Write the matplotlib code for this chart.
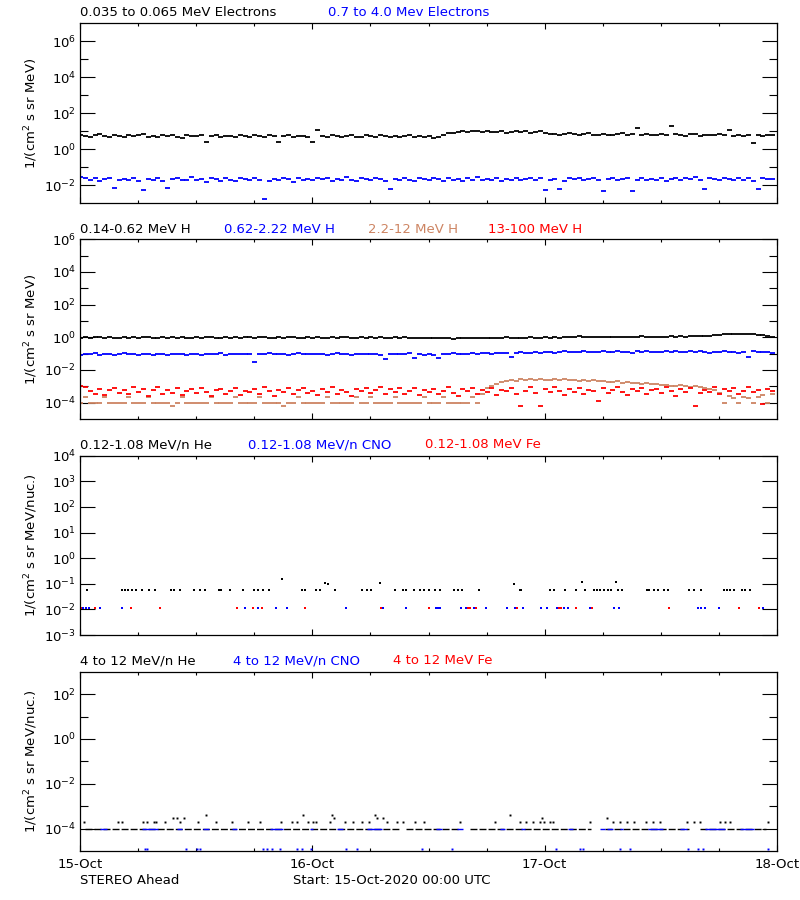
import matplotlib
matplotlib.use('Agg')
import matplotlib.pyplot as plt
import numpy as np
from matplotlib.ticker import FixedLocator, LogFormatterMathtext, NullFormatter

# time axis: 15-Oct-2020 00:00 UTC .. 18-Oct-2020 00:00, in hours
day_ticks = [0, 24, 48, 72]
day_labels = ['15-Oct', '16-Oct', '17-Oct', '18-Oct']
cadence_h = 0.5   # 30 min averages

# panel 1: electrons, log10 flux
e_low_log = [0.80, 0.74, 0.70, 0.78, 0.83, 0.72, 0.66, 0.79, 0.75, 0.69, 0.81, 0.73,
             0.77, 0.85, 0.71, 0.76, 0.68, 0.80, 0.74, 0.82, 0.70, 0.63, 0.78, 0.75,
             0.72, 0.79, 0.42, 0.74, 0.81, 0.69, 0.76, 0.73, 0.66, 0.80, 0.75, 0.71,
             0.78, 0.74, 0.70, 0.77, 0.72, 0.40, 0.75, 0.79, 0.68, 0.73, 0.76, 0.71,
             0.41, 1.10, 0.74, 0.70, 0.78, 0.72, 0.67, 0.75, 0.80, 0.71, 0.69, 0.77,
             0.73, 0.68, 0.79, 0.74, 0.70, 0.76, 0.66, 0.72, 0.78, 0.69, 0.75, 0.71,
             0.74, 0.65, 0.70, 0.78, 0.88, 0.93, 0.97, 1.02, 0.95, 0.99, 1.04, 0.96,
             1.00, 0.94, 0.98, 1.03, 0.92, 0.97, 1.01, 0.95, 0.99, 0.93, 0.96, 1.00,
             0.91, 0.87, 0.84, 0.80, 0.86, 0.90, 0.83, 0.78, 0.85, 0.88, 0.82, 0.79,
             0.86, 0.81, 0.77, 0.84, 0.89, 0.80, 0.83, 1.18, 0.79, 0.85, 0.82, 0.78,
             0.87, 0.81, 1.28, 0.84, 0.79, 0.76, 0.83, 0.86, 0.74, 0.80, 0.77, 0.82,
             0.85, 0.79, 1.10, 0.76, 0.81, 0.74, 0.78, 0.36, 0.80, 0.73, 0.77, 0.81]
e_high_log = [-1.55, -1.62, -1.70, -1.58, -1.75, -1.66, -1.60, -2.15, -1.72, -1.64, -1.69, -1.57,
              -1.74, -2.28, -1.63, -1.70, -1.59, -1.78, -2.15, -1.66, -1.61, -1.73, -1.68, -1.55,
              -1.71, -1.64, -1.80, -1.59, -1.67, -1.74, -1.62, -1.69, -1.76, -1.58, -1.65, -1.72,
              -1.60, -1.68, -2.74, -1.75, -1.63, -1.70, -1.57, -1.66, -1.79, -1.61, -1.69, -1.64,
              -1.73, -1.58, -1.67, -1.62, -1.76, -1.65, -1.70, -1.56, -1.68, -1.74, -1.61, -1.67,
              -1.72, -1.59, -1.66, -1.78, -2.20, -1.63, -1.70, -1.57, -1.68, -1.75, -1.62, -1.66,
              -1.71, -1.60, -1.67, -1.74, -1.58, -1.69, -1.63, -1.77, -1.61, -1.68, -1.56, -1.72,
              -1.65, -1.70, -1.59, -1.76, -1.64, -1.68, -1.60, -1.73, -1.66, -1.57, -1.71, -1.62,
              -2.28, -1.69, -1.63, -2.20, -1.74, -1.60, -1.67, -1.58, -1.72, -1.65, -1.61, -1.70,
              -2.30, -1.64, -1.59, -1.73, -1.66, -1.62, -2.32, -1.68, -1.57, -1.71, -1.63, -1.69,
              -1.60, -1.74, -1.65, -1.58, -1.70, -1.62, -1.67, -1.55, -1.73, -2.20, -1.61, -1.66,
              -1.70, -1.59, -1.64, -1.72, -1.57, -1.68, -1.62, -1.75, -2.18, -1.60, -1.66, -1.63]

# panel 2: protons, log10 flux
h1_log = [-0.02, 0.01, -0.04, -0.01, 0.02, -0.03, 0.00, -0.05, -0.02, 0.01, -0.03, 0.00,
          -0.04, -0.01, 0.02, -0.03, -0.02, 0.01, -0.05, -0.01, -0.03, 0.02, -0.02, -0.04,
          0.00, -0.03, -0.01, 0.02, -0.04, -0.02, 0.01, -0.03, 0.00, -0.05, -0.01, 0.02,
          -0.03, -0.01, 0.01, -0.04, -0.02, 0.00, -0.03, 0.03, -0.01, -0.04, -0.02, 0.01,
          -0.03, 0.00, -0.05, -0.02, 0.01, -0.03, -0.01, 0.02, -0.04, -0.02, 0.00, -0.03,
          -0.01, -0.04, 0.01, -0.02, -0.05, 0.00, -0.03, -0.01, -0.06, -0.03, -0.05, -0.02,
          -0.07, -0.04, -0.06, -0.03, -0.05, -0.08, -0.04, -0.06, -0.02, -0.05, -0.03, -0.06,
          -0.04, -0.02, -0.05, -0.03, -0.01, -0.04, -0.02, -0.05, -0.03, 0.00, -0.02, -0.04,
          -0.01, -0.03, 0.00, -0.02, 0.01, -0.01, 0.02, 0.08, 0.00, 0.03, -0.01, 0.02,
          0.01, 0.03, 0.00, 0.04, 0.02, 0.05, 0.01, 0.03, 0.06, 0.02, 0.04, 0.03,
          0.05, 0.02, 0.06, 0.04, 0.07, 0.05, 0.08, 0.06, 0.09, 0.11, 0.08, 0.12,
          0.17, 0.20, 0.18, 0.22, 0.19, 0.21, 0.18, 0.20, 0.16, 0.12, 0.07, 0.04]
h2_log = [-1.08, -1.02, -1.05, -0.99, -1.06, -1.03, -1.01, -1.07, -1.04, -0.98, -1.05, -1.02,
          -1.06, -1.03, -1.00, -1.07, -1.04, -1.01, -1.08, -1.03, -1.05, -1.00, -1.06, -1.02,
          -1.04, -1.07, -1.01, -1.05, -1.03, -0.99, -1.06, -1.02, -1.04, -1.00, -1.05, -1.03,
          -1.49, -1.01, -1.04, -0.98, -1.05, -1.02, -1.00, -1.06, -1.03, -0.99, -1.04, -1.01,
          -1.05, -1.02, -1.00, -1.06, -1.03, -0.98, -1.04, -1.01, -1.07, -1.02, -1.00, -1.05,
          -1.03, -1.00, -1.06, -1.33, -1.02, -1.05, -1.01, -1.04, -0.99, -1.25, -1.03, -1.06,
          -1.02, -1.07, -1.25, -1.01, -1.04, -0.98, -1.03, -1.00, -1.05, -0.97, -1.02, -0.99,
          -0.96, -1.01, -0.98, -0.94, -0.99, -1.20, -0.95, -0.92, -0.97, -0.93, -0.90, -0.95,
          -0.91, -0.88, -0.93, -0.89, -0.86, -0.92, -0.88, -0.90, -0.85, -0.91, -0.87, -0.89,
          -0.86, -0.92, -0.88, -0.85, -0.90, -0.87, -0.93, -0.86, -0.89, -0.84, -0.90, -0.87,
          -0.91, -0.86, -0.88, -0.83, -0.89, -0.92, -0.86, -0.90, -0.85, -0.88, -0.93, -0.87,
          -0.89, -0.85, -0.91, -0.87, -0.93, -0.88, -1.20, -0.86, -0.90, -0.92, -0.87, -0.94]
h3_log = [-4.00, -3.66, -4.00, -4.00, -4.00, -3.66, -4.00, -4.00, -4.00, -4.00, -3.66, -4.00,
          -4.00, -4.00, -3.66, -4.00, -4.00, -4.00, -4.00, -4.20, -4.00, -3.66, -4.00, -4.00,
          -4.00, -4.00, -4.00, -3.66, -4.00, -4.00, -4.00, -4.00, -3.66, -4.00, -4.00, -4.00,
          -4.00, -3.66, -4.00, -4.00, -4.00, -4.00, -4.20, -4.00, -4.00, -3.66, -4.00, -4.00,
          -4.00, -4.00, -4.00, -3.66, -4.00, -4.00, -4.00, -4.00, -4.00, -3.66, -4.00, -4.00,
          -3.66, -4.00, -4.00, -4.00, -4.00, -3.66, -4.00, -4.00, -4.00, -4.00, -4.00, -3.66,
          -4.00, -4.00, -4.00, -3.66, -4.00, -4.00, -4.00, -4.00, -4.00, -3.66, -4.00, -3.45,
          -3.10, -3.00, -2.85, -2.75, -2.70, -2.62, -2.66, -2.58, -2.63, -2.56, -2.60, -2.55,
          -2.59, -2.62, -2.56, -2.61, -2.58, -2.64, -2.60, -2.66, -2.62, -2.68, -2.63, -2.70,
          -2.67, -2.72, -2.75, -2.70, -2.78, -2.74, -2.80, -2.77, -2.84, -2.80, -2.86, -2.88,
          -2.92, -2.89, -2.95, -2.98, -2.94, -3.00, -3.03, -2.99, -3.06, -3.10, -3.14, -3.20,
          -3.40, -4.00, -3.60, -3.70, -4.00, -3.66, -3.72, -4.00, -3.66, -3.55, -4.00, -3.50]
h4_log = [-2.95, -3.05, -3.30, -3.45, -3.15, -3.55, -3.25, -3.10, -3.40, -3.20, -3.50, -3.05,
          -3.35, -3.15, -3.60, -3.25, -3.05, -3.45, -3.20, -3.38, -3.12, -3.55, -3.28, -3.18,
          -3.42, -3.08, -3.33, -3.58, -3.22, -3.14, -3.47, -3.30, -3.10, -3.52, -3.26, -3.37,
          -3.16, -3.44, -3.06, -3.31, -3.62, -3.20, -3.35, -3.12, -3.48, -3.24, -3.09, -3.40,
          -3.28, -3.54, -3.15, -3.36, -3.07, -3.45, -3.22, -3.33, -3.60, -3.18, -3.29, -3.11,
          -3.43, -3.25, -3.05, -3.50, -3.19, -3.34, -3.13, -3.46, -3.27, -3.08, -3.56, -3.21,
          -3.32, -3.14, -3.48, -3.26, -3.04, -3.39, -3.58, -3.17, -3.30, -3.11, -3.44, -3.23,
          -3.35, -3.09, -3.52, -3.20, -3.31, -3.13, -3.47, -4.23, -3.26, -3.06, -3.40, -4.20,
          -3.18, -3.37, -3.02, -3.28, -3.55, -3.15, -3.33, -3.10, -3.45, -3.21, -3.29, -3.88,
          -3.12, -3.41, -3.24, -3.06, -3.36, -3.53, -3.19, -3.30, -3.08, -3.46, -3.25, -3.14,
          -3.38, -3.04, -3.29, -3.57, -3.16, -3.32, -3.10, -4.20, -3.43, -3.22, -3.35, -3.07,
          -3.49, -3.18, -3.31, -3.12, -3.44, -3.26, -3.05, -3.37, -3.20, -4.10, -3.15, -3.28]

# panel 3: 0.12-1.08 MeV/n heavy ions (hours of non-zero samples)
he_lo_t = [0.7, 4.3, 4.6, 5.0, 5.4, 5.8, 6.4, 7.1, 7.7, 9.4, 9.7, 10.3, 11.8, 12.4, 12.9,
           14.4, 14.6, 15.5, 16.8, 18.0, 18.4, 18.9, 19.5, 22.9, 23.2, 24.4, 24.8, 26.3,
           29.1, 29.6, 30.1, 32.5, 33.4, 33.7, 34.5, 35.1, 35.5, 36.0, 36.7, 37.2, 38.6,
           39.0, 39.5, 41.2, 45.5, 45.6, 48.5, 49.0, 50.1, 51.2, 52.2, 53.1, 53.4, 53.7,
           54.1, 54.5, 54.9, 55.6, 56.0, 58.6, 58.8, 59.3, 59.7, 60.3, 60.7, 62.9, 63.4,
           64.2, 66.5, 66.8, 67.1, 67.6, 68.4, 68.7, 69.2]
he_lo_level = 0.055
he_lo_hi_t = [20.9, 25.3, 25.6, 31.0, 44.8, 51.9, 55.4]
he_lo_hi_v = [0.16, 0.11, 0.10, 0.11, 0.10, 0.12, 0.12]
cno_lo_t = [0.3, 0.6, 0.9, 2.1, 4.3, 17.0, 18.4, 20.2, 21.4, 27.5, 31.3, 33.7, 36.8, 37.0,
            37.2, 39.4, 39.9, 40.7, 41.9, 44.1, 44.9, 45.8, 47.6, 48.2, 49.3, 50.0, 50.4,
            51.2, 52.7, 55.2, 55.7, 63.8, 64.2, 64.6, 66.0, 70.6]
fe_lo_t = [0.1, 1.5, 5.3, 8.3, 16.2, 17.9, 18.8, 23.2, 31.1, 36.0, 40.1, 40.3, 40.9, 45.1,
           49.5, 49.7, 51.2, 52.9, 60.8, 68.1, 70.1]
lo_floor = 0.011

# panel 4: 4-12 MeV/n heavy ions
he_hi_t = [0.4, 3.95, 4.3, 6.5, 6.9, 7.6, 7.9, 8.8, 9.6, 10.0, 10.3, 10.7, 12.2, 13.0, 14.1,
           15.7, 17.4, 18.6, 20.8, 21.9, 22.4, 23.0, 23.6, 24.1, 24.4, 25.8, 26.0, 26.2,
           27.4, 28.2, 29.1, 29.9, 30.5, 30.7, 31.3, 31.7, 32.7, 33.4, 34.6, 35.5, 39.3,
           42.9, 44.4, 45.5, 46.1, 46.8, 47.5, 47.7, 47.9, 48.6, 48.9, 52.7, 54.4, 55.1,
           55.8, 56.5, 57.2, 58.5, 59.2, 59.9, 62.7, 63.4, 64.0, 66.1, 66.6, 67.1, 71.1]
he_hi_v = [1.9, 1.9, 1.9, 1.9, 1.9, 1.9, 1.9, 1.9, 3.0, 3.0, 1.9, 3.0, 1.9, 4.0, 1.9,
           1.9, 1.9, 1.9, 1.9, 1.9, 1.9, 4.0, 1.9, 1.9, 1.9, 1.9, 4.0, 3.0,
           1.9, 1.9, 1.9, 1.9, 4.0, 3.0, 3.0, 1.9, 1.9, 1.9, 1.9, 1.9, 1.9,
           1.9, 4.0, 1.9, 1.9, 1.9, 1.9, 3.0, 1.9, 1.9, 1.9, 1.9, 3.0, 1.9,
           1.9, 1.9, 1.9, 1.9, 1.9, 1.9, 1.9, 1.9, 1.9, 1.9, 1.9, 1.9, 1.9]   # x 1e-4
he_hi_floor_spans = [(0.5, 33.0), (33.7, 39.2), (40.3, 52.8), (54.2, 62.9), (64.0, 70.9)]
cno_hi_floor_spans = [(2.1, 2.8), (6.4, 8.1), (10.0, 10.5), (12.7, 13.3), (15.7, 16.2),
                      (19.6, 21.0), (23.8, 24.1), (26.5, 27.2), (29.6, 31.2), (36.8, 37.4),
                      (38.9, 39.6), (43.4, 43.9), (45.6, 46.0), (50.4, 50.9), (53.7, 54.2),
                      (54.4, 55.1), (55.8, 56.1), (58.7, 60.2), (62.0, 62.7), (64.6, 66.6),
                      (68.2, 69.6)]
cno_hi_low_t = [6.7, 6.9, 11.0, 12.1, 12.4, 18.9, 19.3, 19.8, 20.7, 22.4, 22.9, 23.9, 27.5,
                28.6, 35.3, 38.4, 49.2, 51.7, 52.0, 55.8, 56.8, 62.8, 63.8, 64.4, 71.1]
hi_floor = 1e-4
cno_hi_low_level = 1.2e-5

BLUE = '#0000ff'
RED = '#ff0000'
BROWN = '#cd8462'

plt.rcParams['font.family'] = 'DejaVu Sans'
plt.rcParams['font.size'] = 9.5

fig = plt.figure(figsize=(8, 9), dpi=100)

def px(x, y):
    return x / 800, 1 - y / 900

def make_axes(top, bottom, ylim, majors, minors, ylabel):
    ax = fig.add_axes([80 / 800, 1 - bottom / 900, 697 / 800, (bottom - top) / 900])
    ax.set_xlim(0, 72)
    ax.set_yscale('log')
    ax.set_ylim(*ylim)
    ax.yaxis.set_major_locator(FixedLocator(majors))
    ax.yaxis.set_minor_locator(FixedLocator(minors))
    ax.yaxis.set_major_formatter(LogFormatterMathtext())
    ax.yaxis.set_minor_formatter(NullFormatter())
    ax.xaxis.set_major_locator(FixedLocator(day_ticks))
    ax.xaxis.set_minor_locator(FixedLocator(np.arange(6, 72, 6)))
    ax.tick_params(axis='y', which='both', direction='in', left=True, right=True, width=0.8, pad=3)
    ax.tick_params(axis='y', which='major', length=11)
    ax.tick_params(axis='y', which='minor', length=5.5)
    ax.tick_params(axis='x', which='both', direction='in', top=True, bottom=True, width=0.8)
    ax.tick_params(axis='x', which='major', length=4, pad=5)
    ax.tick_params(axis='x', which='minor', length=2.5)
    ax.set_xticklabels([])
    for s in ax.spines.values():
        s.set_linewidth(0.9)
    ax.set_ylabel(ylabel)
    ax.yaxis.set_label_coords(-0.058, 0.5)
    return ax

t = np.arange(len(e_low_log)) * cadence_h
# short horizontal dashes, so the 30 min samples read as a dense band
mk = dict(marker='_', ms=3.6, mew=1.3, ls='none')

# panel 1
ax1 = make_axes(23.3, 203.3, (1e-3, 1e7), [1e-2, 1, 1e2, 1e4, 1e6], [1e-1, 1e1, 1e3, 1e5],
                '1/(cm$^2$ s sr MeV)')
ax1.plot(t, 10 ** np.array(e_low_log), color='black', **mk)
ax1.plot(t, 10 ** np.array(e_high_log), color=BLUE, **mk)
fig.text(*px(80, 13), '0.035 to 0.065 MeV Electrons', color='black', va='center')
fig.text(*px(328, 13), '0.7 to 4.0 Mev Electrons', color=BLUE, va='center')

# panel 2
ax2 = make_axes(239.3, 419.0, (1e-5, 1e6), [1e-4, 1e-2, 1, 1e2, 1e4, 1e6],
                [1e-3, 1e-1, 1e1, 1e3, 1e5], '1/(cm$^2$ s sr MeV)')
ax2.plot(t, 10 ** np.array(h3_log), color=BROWN, **mk)
ax2.plot(t, 10 ** np.array(h4_log), color=RED, **mk)
ax2.plot(t, 10 ** np.array(h1_log), color='black', **mk)
ax2.plot(t, 10 ** np.array(h2_log), color=BLUE, **mk)
fig.text(*px(80, 229.3), '0.14-0.62 MeV H', color='black', va='center')
fig.text(*px(224, 229.3), '0.62-2.22 MeV H', color=BLUE, va='center')
fig.text(*px(368, 229.3), '2.2-12 MeV H', color=BROWN, va='center')
fig.text(*px(488, 229.3), '13-100 MeV H', color=RED, va='center')

# panel 3
pt = dict(marker='s', ms=1.8, mew=0, ls='none')
ax3 = make_axes(455.7, 635.0, (1e-3, 1e4), [1e-3, 1e-2, 1e-1, 1, 1e1, 1e2, 1e3, 1e4], [],
                '1/(cm$^2$ s sr MeV/nuc.)')
ax3.plot(he_lo_t, [he_lo_level] * len(he_lo_t), color='black', **pt)
ax3.plot(he_lo_hi_t, he_lo_hi_v, color='black', **pt)
ax3.plot(cno_lo_t, [lo_floor] * len(cno_lo_t), color=BLUE, **pt)
ax3.plot(fe_lo_t, [lo_floor] * len(fe_lo_t), color=RED, **pt)
fig.text(*px(80, 445), '0.12-1.08 MeV/n He', color='black', va='center')
fig.text(*px(248, 445), '0.12-1.08 MeV/n CNO', color=BLUE, va='center')
fig.text(*px(425, 445), '0.12-1.08 MeV Fe', color=RED, va='center')

# panel 4
ax4 = make_axes(671.7, 851.0, (1e-5, 1e3), [1e-4, 1e-2, 1, 1e2], [1e-3, 1e-1, 1e1],
                '1/(cm$^2$ s sr MeV/nuc.)')
ax4.hlines([hi_floor] * len(he_hi_floor_spans), [s[0] for s in he_hi_floor_spans],
           [s[1] for s in he_hi_floor_spans], color='black', lw=1.0, linestyles=(0, (5, 1.5)))
ax4.hlines([hi_floor] * len(cno_hi_floor_spans), [s[0] for s in cno_hi_floor_spans],
           [s[1] for s in cno_hi_floor_spans], color=BLUE, lw=1.0)
ax4.plot(he_hi_t, np.array(he_hi_v) * 1e-4, color='black', marker='s', ms=1.4, mew=0, ls='none')
ax4.plot(cno_hi_low_t, [cno_hi_low_level] * len(cno_hi_low_t), color=BLUE, marker='s', ms=1.4,
         mew=0, ls='none')
ax4.set_xticklabels(day_labels)
fig.text(*px(80, 661), '4 to 12 MeV/n He', color='black', va='center')
fig.text(*px(233, 661), '4 to 12 MeV/n CNO', color=BLUE, va='center')
fig.text(*px(393, 661), '4 to 12 MeV Fe', color=RED, va='center')

fig.text(*px(80, 881), 'STEREO Ahead', va='center')
fig.text(*px(293, 881), 'Start: 15-Oct-2020 00:00 UTC', va='center')

fig.savefig('out.png', dpi=100)
